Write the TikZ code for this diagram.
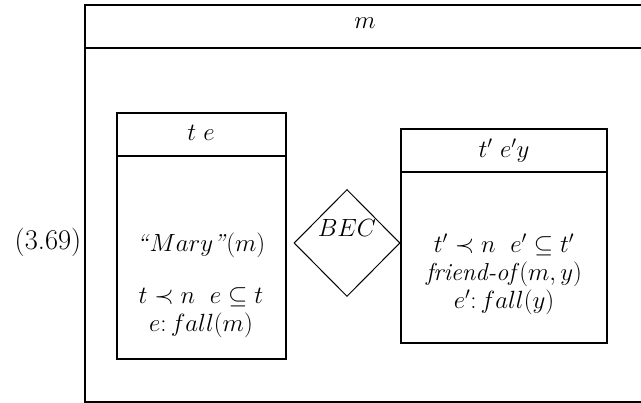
\documentclass[tikz,border=0pt]{standalone}
\usetikzlibrary{positioning, shapes.geometric}

\tikzset{
    drsline/.style={line width=2.5pt},
    drstext/.style={font=\fontsize{24.5}{28}\selectfont, align=center, inner sep=0pt}
}

\begin{document}
\begin{tikzpicture}[x=1pt, y=-1pt]
    \useasboundingbox (0,0) rectangle (641,403);

    % example number
    \node[drstext, font=\fontsize{28.5}{32}\selectfont] (num) at (48,242) {(3.69)};

    % outer box, its right side runs off the page
    \draw[drsline] (660,5) -- (85,5) -- (85,402) -- (660,402);
    \draw[drsline] (85,48) -- (660,48);
    \node[drstext] (mref) at (365,23) {$m$};

    % left box
    \draw[drsline] (117,113) rectangle (286,359);
    \draw[drsline] (117,156) -- (286,156);
    \node[drstext] (lhead) at (201,133) {$t\ e$};
    \node[drstext] (lmary) at (201,245) {\textit{``}$Mary$\textit{''}$(m)$};
    \node[drstext] (lconds) at (201,313)
        {$t \prec n\ \ e \subseteq t$\\ $e{:}\,fall(m)$};

    % right box
    \draw[drsline] (401,129) rectangle (607,343);
    \draw[drsline] (401,172) -- (607,172);
    \node[drstext] (rhead) at (504,151) {$t'\ e'y$};
    \node[drstext] (rconds) at (504,274)
        {$t' \prec n\ \ e' \subseteq t'$\\ \textit{friend-of}$(m,y)$\\ $e'{:}\,fall(y)$};

    % merge operator
    \node[
        draw,
        diamond,
        line width=1pt,
        minimum width=106pt,
        minimum height=107pt,
        inner sep=0pt
    ] (bec) at (347,243) {};
    \node[drstext] (becname) at (347,228) {$BEC$};
\end{tikzpicture}
\end{document}
